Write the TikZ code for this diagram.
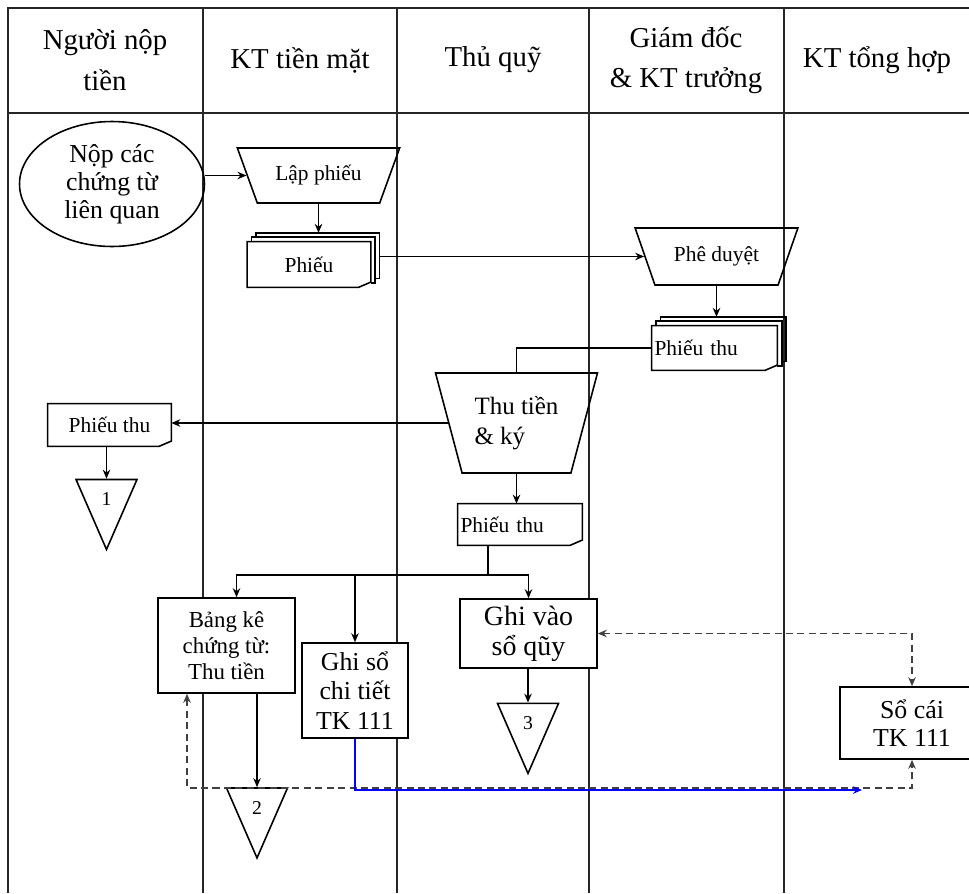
\documentclass[tikz,border=0pt]{standalone}
\usepackage{fontspec}
\setmainfont{Liberation Serif}
\usepackage{tikz}
\usetikzlibrary{arrows.meta, positioning, shapes.geometric, calc}

% paper outline with a folded corner
\newcommand{\docframe}[1]{%
  \draw[line width=0.9pt] (#1.north west) -- (#1.north east) -- ([yshift=3pt]#1.south east)
    -- ([xshift=-7pt]#1.south east) -- (#1.south west) -- cycle;
  \fill ([xshift=-7pt]#1.south east) -- ([yshift=3pt]#1.south east) -- ([xshift=-2pt,yshift=2.2pt]#1.south east) -- cycle;
}
% stack of papers
\newcommand{\docstack}[1]{%
  \draw[line width=0.9pt] ([shift={(5pt,2.5pt)}]#1.north west) -- ++(0,2.5pt) -- ([shift={(5pt,5pt)}]#1.north east)
    -- ([shift={(5pt,5pt)}]#1.south east) -- ([shift={(2.5pt,5pt)}]#1.south east);
  \draw[line width=0.9pt] ([xshift=2.5pt]#1.north west) -- ++(0,2.5pt) -- ([shift={(2.5pt,2.5pt)}]#1.north east)
    -- ([shift={(2.5pt,2.5pt)}]#1.south east) -- ([yshift=2.5pt]#1.south east);
  \docframe{#1}
}

\begin{document}
\begin{tikzpicture}[x=0.02cm, y=-0.02cm,
        lane/.style={line width=0.9pt, black!85},
        head/.style={align=center, font=\fontsize{16.4}{23}\selectfont},
        task/.style={trapezium, draw, line width=0.9pt, shape border rotate=180, trapezium stretches=true, inner sep=0pt, align=left},
        box/.style={rectangle, draw, line width=0.9pt, fill=white, align=center, inner sep=0pt},
        doc/.style={rectangle, inner sep=0pt, font=\fontsize{12.2}{14}\selectfont},
        conn/.style={isosceles triangle, draw, line width=0.9pt, shape border rotate=270, isosceles triangle stretches=true, inner sep=0pt, minimum width=1.22cm, minimum height=1.4cm, font=\fontsize{11.2}{13}\selectfont},
        arrow/.style={-{Stealth[length=1.8mm, width=1.5mm]}, line width=0.9pt},
        dasharrow/.style={{Stealth[length=1.8mm, width=1.5mm]}-{Stealth[length=1.8mm, width=1.5mm]}, line width=0.9pt, dash pattern=on 4pt off 2.5pt, black!75},
        bluearrow/.style={-{Stealth[length=1.8mm, width=1.5mm]}, line width=0.9pt, blue}
    ]
        \useasboundingbox (0,0) rectangle (969,893);

        % Swimlanes
        \draw[lane] (8,893) -- (8,8) -- (969,8);
        \draw[lane] (8,113) -- (969,113);
        \draw[lane] (203,8) -- (203,893) (397,8) -- (397,893) (589,8) -- (589,893) (784,8) -- (784,893);

        \node[head] (hnguoinop) at (105,60) {Người nộp\\tiền};
        \node[head] (hktienmat) at (300,60) {KT tiền mặt};
        \node[head] (hthuquy) at (493,60) {Thủ quỹ};
        \node[head] (hgiamdoc) at (686,60) {Giám đốc\\\& KT trưởng};
        \node[head] (htonghop) at (877,60) {KT tổng hợp};

        % Receipt steps
        \node[ellipse, draw, line width=0.9pt, minimum width=3.7cm, minimum height=2.5cm, inner sep=0pt, align=center, font=\fontsize{14.7}{16}\selectfont] (nopct) at (112,184) {Nộp các\\chứng từ\\liên quan};
        \node[task, minimum width=3.26cm, minimum height=1.1cm, trapezium angle=55, font=\fontsize{12.2}{14}\selectfont] (lapphieu) at (318.5,175.5) {Lập phiếu};
        \node[doc, minimum width=2.46cm, minimum height=0.9cm] (phieu) at (309,264.5) {Phiếu};
        \node[task, minimum width=3.26cm, minimum height=1.14cm, trapezium angle=55, font=\fontsize{12.2}{14}\selectfont] (pheduyet) at (716.5,256.5) {Phê duyệt};
        \node[doc, minimum height=0.88cm, text width=2.4cm, inner xsep=0.05cm, align=left] (phieuthu) at (714.5,348) {Phiếu thu};
        \node[task, minimum width=3.26cm, minimum height=2cm, trapezium angle=69, font=\fontsize{14.2}{17}\selectfont] (thutien) at (516.5,423) {Thu tiền\\\& ký};
        \node[doc, minimum width=2.46cm, minimum height=0.84cm] (pta) at (109.5,425) {Phiếu thu};
        \node[conn] (tri1) at (106.5,499) {1};
        \node[doc, minimum height=0.82cm, text width=2.38cm, inner xsep=0.05cm, align=left] (ptb) at (520,524.5) {Phiếu thu};

        % Books
        \node[box, minimum width=2.74cm, minimum height=1.9cm, font=\fontsize{13}{14.8}\selectfont] (bangke) at (226.5,645.5) {Bảng kê\\chứng từ:\\Thu tiền};
        \node[box, minimum width=2.12cm, minimum height=1.9cm, font=\fontsize{14.7}{17}\selectfont] (ghisoct) at (355,690.5) {Ghi sổ\\chi tiết\\TK 111};
        \node[box, minimum width=2.74cm, minimum height=1.38cm, font=\fontsize{15.9}{17}\selectfont] (ghivao) at (528.5,633.5) {Ghi vào\\sổ qũy};
        \node[box, minimum width=2.88cm, minimum height=1.44cm, font=\fontsize{14.7}{16}\selectfont] (socai) at (912,723) {Sổ cái\\TK 111};
        \node[conn] (tri2) at (257,807.5) {2};
        \node[conn] (tri3) at (528,723) {3};

        \docstack{phieu}
        \docstack{phieuthu}
        \docframe{pta}
        \docframe{ptb}

        % Arrows
        \draw[arrow] (lapphieu.west -| nopct.east) -- (lapphieu.west);
        \draw[arrow] (lapphieu.south) -- ([yshift=5pt]phieu.north -| lapphieu.south);
        \draw[arrow] ([xshift=5pt]phieu.east |- pheduyet.west) -- (pheduyet.west);
        \draw[arrow] (pheduyet.south) -- ([yshift=5pt]phieuthu.north -| pheduyet.south);
        \draw[line width=0.9pt] (phieuthu.west) -| (thutien.north);
        \draw[arrow] (thutien.west) -- (thutien.west -| pta.east);
        \draw[arrow] (tri1.north |- pta.south) -- (tri1.north);
        \draw[arrow] (thutien.south) -- (thutien.south |- ptb.north);

        \coordinate (split) at (488,575);
        \draw[line width=0.9pt] (ptb.south -| split) -- (split);
        \draw[arrow] (split) -| ([xshift=5.7pt]bangke.north);
        \draw[arrow] (split -| ghisoct.north) -- (ghisoct.north);
        \draw[arrow] (split) -| (ghivao.north);
        \draw[arrow] (bangke.south -| tri2.north) -- (tri2.north);
        \draw[arrow] (tri3.north |- ghivao.south) -- (tri3.north);

        \coordinate (dashlow) at (187,788);
        \coordinate (blueend) at (862,790);
        \draw[dasharrow] (bangke.south -| dashlow) -- (dashlow) -| (socai.south);
        \draw[bluearrow] (ghisoct.south) |- (blueend);
        \draw[dasharrow] (ghivao.east) -| (socai.north);
    \end{tikzpicture}
\end{document}
